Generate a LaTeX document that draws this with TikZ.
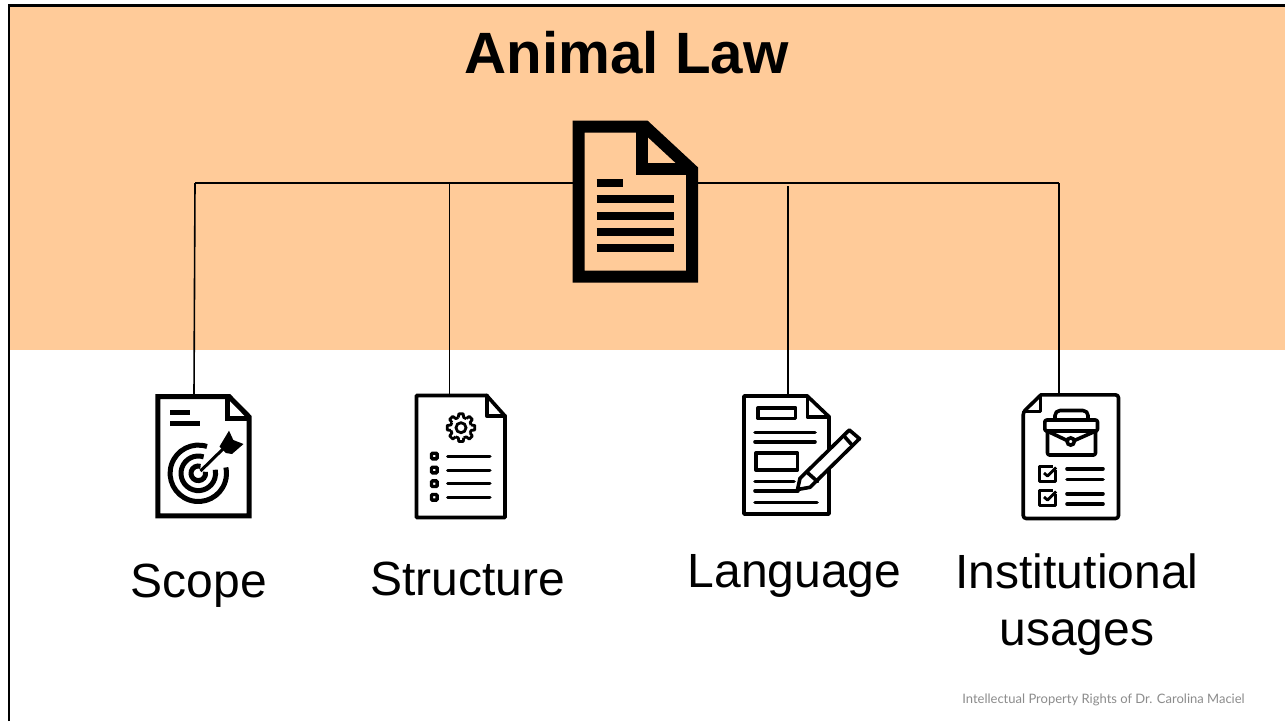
\documentclass[tikz,border=0pt]{standalone}
\usepackage{fontspec}
\setmainfont{Liberation Sans}
\newfontfamily\footfont{Lato}
\usepackage{tikz}
\usetikzlibrary{arrows}
\definecolor{bandorange}{HTML}{FFCB99}
\definecolor{footgray}{HTML}{8C8C8C}
\tikzstyle{anchorbox} = [rectangle, inner sep=0pt, outer sep=0pt]
\tikzstyle{line} = [draw, line width=1.6pt]
\tikzstyle{iconthin} = [draw, line width=3.6pt, line join=round, line cap=round]
\tikzstyle{iconthick} = [draw, line width=5pt, line join=miter]
\tikzstyle{label} = [anchor=base, font=\fontsize{48}{48}\selectfont]

\begin{document}
\begin{tikzpicture}[x=1pt, y=1pt, yscale=-1]
\useasboundingbox (0, 0) rectangle (1285, 721);
\fill [white] (0, 0) rectangle (1285, 721);

% band, frame
\fill [bandorange] (10, 6) rectangle (1285, 350);
\draw [line width=2.4pt] (9, 721) -- (9, 5.5) -- (1285, 5.5);

\node [anchor=base, font=\fontsize{58.3}{58.3}\selectfont\bfseries] at (626.5, 73) (title) {Animal Law};

% icons as boxes
\node [anchorbox, minimum width=125.5pt, minimum height=162pt] at (635.5, 201.7) (rootdoc) {};
\node [anchorbox, minimum width=96.4pt, minimum height=124.3pt] at (203.5, 456.2) (scopeicon) {};
\node [anchorbox, minimum width=91.7pt, minimum height=125pt] at (460.9, 456.5) (structicon) {};
\node [anchorbox, minimum width=87.3pt, minimum height=120.3pt] at (786.3, 454.9) (langicon) {};
\node [anchorbox, minimum width=98.3pt, minimum height=126.7pt] at (1070.9, 456.7) (insticon) {};

% connectors
\coordinate (busscope) at (195, 183);
\coordinate (busstruct) at (449.5, 183);
\coordinate (buslang) at (788, 186);
\coordinate (businst) at (1059, 183);
\path [line] (rootdoc.west |- busscope) to (busscope);
\path [line] (rootdoc.east |- businst) to (businst);
\path [line] (busscope) to ([xshift=-9.5pt]scopeicon.north);
\path [line] (busstruct) to ([xshift=-11.4pt]structicon.north);
\path [line] (buslang) to ([xshift=1.7pt]langicon.north);
\path [line] (businst) to ([xshift=-11.9pt]insticon.north);

% root document
\draw [line width=12pt, miter limit=10] (578.7, 126.6) -- (645.2, 126.6) -- (692, 170) -- (692, 276.7) -- (578.7, 276.7) -- cycle;
\draw [line width=12pt] (642, 126.6) -- (642, 169) -- (692, 169);
\draw [line width=8pt] (596.7, 183) -- (623.3, 183);
\foreach \y in {199.3, 215.7, 232, 248.3}
  \draw [line width=8pt] (596.7, \y) -- (673.7, \y);

% scope
\draw [iconthick] (157.8, 396.5) -- (229, 396.5) -- (249.2, 417) -- (249.2, 515.8) -- (157.8, 515.8) -- cycle;
\draw [iconthick] (227.5, 396.5) -- (227.5, 418.5) -- (249.2, 418.5);
\draw [iconthick] (170, 412.3) -- (190, 412.3);
\draw [iconthick] (170, 423.7) -- (200, 423.7);
\foreach \r in {28.2, 17.3, 7.3}
  \draw [iconthick, shift={(198.3, 473.3)}] (-72:\r pt) arc [start angle=-72, end angle=-372, radius=\r pt];
\draw [line width=3pt] (200.5, 471) -- (224, 448);
\fill (229, 430.7) -- (233.3, 440) -- (243.5, 444) -- (232, 454) -- (226, 453) -- (219.5, 446.5) -- cycle;

% structure
\draw [iconthin] (416.5, 395.5) -- (486.7, 395.5) -- (505, 416) -- (505, 517.5) -- (416.5, 517.5) -- cycle;
\draw [iconthin] (486.7, 395.5) -- (486.7, 416) -- (505, 416);
\begin{scope}[shift={(461, 427.7)}]
\draw [line width=2.8pt] (0, 0) circle (5);
\foreach \a in {0, 45, ..., 315}
  \draw [line width=2.8pt, line join=round] (\a-15:10.5pt) -- (\a-9:14pt) -- (\a+9:14pt) -- (\a+15:10.5pt) -- (\a+30:10.5pt);
\end{scope}
\foreach \y in {456, 470, 483.7, 497.3} {
  \draw [line width=3.4pt, rounded corners=1pt] (431.5, \y-2.8) rectangle (437.1, \y+2.8);
  \draw [line width=3pt, line cap=round] (447.5, \y) -- (490, \y);
}

% language
\draw [iconthin] (744, 396) -- (807.3, 396) -- (829, 416.7) -- (829, 514) -- (744, 514) -- cycle;
\draw [iconthin] (807.3, 396) -- (807.3, 417) -- (829, 417);
\draw [iconthin] (758, 407.8) rectangle (795.5, 418.5);
\draw [iconthin] (755.8, 453) rectangle (797.5, 470);
\foreach \y/\xend in {432.3/815, 441.7/815, 481.3/794, 490.7/798, 502.3/817}
  \draw [iconthin] (755, \y) -- (\xend, \y);
\filldraw [iconthin, fill=white] (797.5, 489.5) -- (800, 478.3) -- (849.3, 430) -- (859.5, 438.7) -- (810, 487.3) -- cycle;
\draw [iconthin] (844, 436) -- (852, 445);
\draw [iconthin] (807.3, 472.5) -- (817.5, 481.5);

% institutional usages
\draw [iconthin, rounded corners=3pt] (1041, 394.8) -- (1118.5, 394.8) -- (1118.5, 518.5) -- (1023.2, 518.5) -- (1023.2, 412) [sharp corners] -- cycle;
\draw [iconthin] (1040.5, 395.5) -- (1040.5, 411.5) -- (1024, 411.5);
\draw [iconthin, rounded corners=2pt] (1044.8, 420) rectangle (1097.5, 431);
\draw [iconthin, rounded corners=2pt] (1047.5, 431) -- (1047.5, 455) -- (1095.5, 455) -- (1095.5, 431);
\draw [iconthin, rounded corners=5pt] (1055, 419) -- (1055, 410.5) -- (1088, 410.5) -- (1088, 419);
\draw [iconthin] (1046, 430.5) -- (1066, 440);
\draw [iconthin] (1097, 430.5) -- (1075.5, 440);
\draw [line width=3.6pt] (1070.7, 441.5) circle (3.6);
\foreach \y/\lineone/\linetwo in {466.5/468.7/479.3, 490.5/493.7/504} {
  \draw [line width=3.6pt, line join=round] (1053, \y) -- (1039.5, \y) -- (1039.5, \y+15) -- (1055.5, \y+15) -- (1055.5, \y+3);
  \draw [line width=2.8pt, line join=round] (1044, \y+6.5) -- (1047.5, \y+9.5) -- (1056, \y+1);
  \draw [iconthin] (1067, \lineone) -- (1103, \lineone);
  \draw [iconthin] (1067, \linetwo) -- (1103, \linetwo);
}

% labels
\node [label] at (199, 597) (scopetext) {Scope};
\node [label] at (467.5, 595) (structtext) {Structure};
\node [label] at (794.5, 587) (langtext) {Language};
\node [label] at (1077, 588) (insttext) {Institutional};
\node [label] at (1077, 645) (usagetext) {usages};
\node [anchor=base, text=footgray, font=\footfont\fontsize{13}{13}\selectfont] at (1103.5, 703) (credit) {Intellectual Property Rights of Dr. Carolina Maciel};

\end{tikzpicture}
\end{document}
